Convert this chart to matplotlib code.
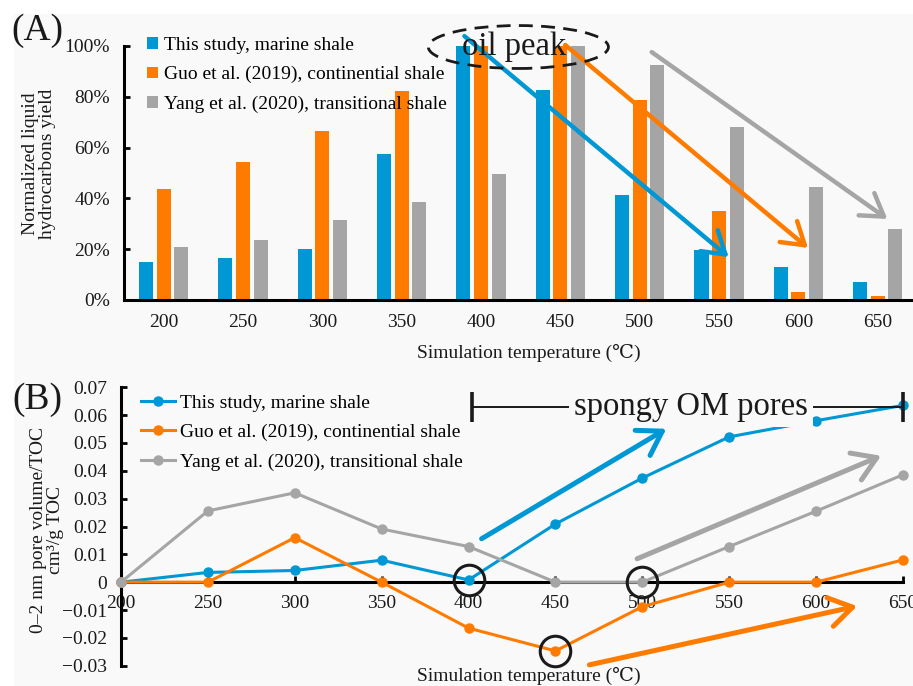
import matplotlib
matplotlib.use("Agg")
import matplotlib.pyplot as plt
import numpy as np
from matplotlib.patches import Ellipse, Rectangle, Patch
from matplotlib.lines import Line2D

plt.rcParams['font.family'] = ['Liberation Serif', 'DejaVu Serif', 'Noto Sans CJK SC']
plt.rcParams['mathtext.fontset'] = 'stix'

# ---------------- data ----------------
temps = [200, 250, 300, 350, 400, 450, 500, 550, 600, 650]
series_names = ["This study, marine shale",
                "Guo et al. (2019), continential shale",
                "Yang et al. (2020), transitional shale"]
colors = ['#0098d4', '#ff7b00', '#a5a5a5']

# Panel A: normalized liquid hydrocarbons yield (fraction)
yield_marine = [0.151, 0.167, 0.202, 0.574, 1.00, 0.827, 0.415, 0.197, 0.129, 0.071]
yield_contin = [0.437, 0.542, 0.665, 0.824, 1.00, 1.00, 0.787, 0.349, 0.031, 0.016]
yield_trans = [0.210, 0.237, 0.314, 0.386, 0.497, 1.00, 0.926, 0.680, 0.444, 0.280]

# Panel B: 0-2 nm pore volume / TOC
pv_marine = [0.0, 0.0035, 0.0042, 0.0079, 0.0008, 0.0209, 0.0374, 0.0522, 0.0580, 0.0635]
pv_contin = [0.0, 0.0, 0.0160, 0.0, -0.0165, -0.0247, -0.0088, 0.0, 0.0, 0.0080]
pv_trans = [0.0, 0.0256, 0.0321, 0.0191, 0.0128, 0.0, 0.0, 0.0128, 0.0255, 0.0386]

# annotation points (circled)
circle_x = [400, 450, 500]
circle_y = [0.0008, -0.0247, 0.0]

# trend arrows, panel A (category index, fraction): start, end
arrowsA = [((3.79, 1.039), (7.12, 0.169)),
           ((5.06, 1.004), (8.12, 0.205)),
           ((6.15, 0.976), (9.12, 0.319))]
# trend arrows, panel B (temperature, value): start, end
arrowsB = [((407.5, 0.0156), (513.8, 0.0551)),
           ((469.5, -0.0297), (623.6, -0.0086)),
           ((497.0, 0.0084), (637.4, 0.0454))]

W, H = 913, 686
fig = plt.figure(figsize=(W / 100, H / 100), dpi=100)
fig.patch.set_facecolor('white')
bg = '#f9f9f9'
fig.add_artist(Rectangle((14 / W, 0), 1, 1 - 14 / H, transform=fig.transFigure,
                         facecolor=bg, edgecolor='none', zorder=-10))

def fx(px):
    return px / W

def fy(py):
    return 1 - py / H

FS = 14
BIG = 23.5
TXT = '#1a1a1a'

# ---------------- Panel A ----------------
axA = fig.add_axes([fx(124), fy(300), (917.5 - 124) / W, (300 - 46) / H])
axA.set_facecolor('none')
x = np.arange(len(temps))
bw = 0.177
off = 0.222
for k, (vals, c, name) in enumerate(zip([yield_marine, yield_contin, yield_trans], colors, series_names)):
    axA.bar(x + (k - 1) * off, vals, width=bw, color=c, label=name, zorder=2)
axA.set_xlim(-0.5, 9.5)
axA.set_ylim(0, 1.0)
axA.set_xticks(x)
axA.set_xticklabels([str(t) for t in temps])
axA.set_yticks(np.arange(0, 1.01, 0.2))
axA.set_yticklabels([f"{int(round(v * 100))}%" for v in np.arange(0, 1.01, 0.2)])
axA.tick_params(axis='x', length=0, pad=10, labelsize=FS, labelcolor=TXT)
axA.tick_params(axis='y', direction='in', length=4, width=2, pad=10, labelsize=FS, labelcolor=TXT)
for s in ['top', 'right']:
    axA.spines[s].set_visible(False)
for s in ['left', 'bottom']:
    axA.spines[s].set_linewidth(2.2)
axA.spines['bottom'].set_zorder(5)

handlesA = [Patch(facecolor=c, edgecolor='none') for c in colors]
legA = fig.legend(handlesA, series_names, loc='upper left', bbox_to_anchor=(fx(147), fy(37)),
                  frameon=False, fontsize=FS, handlelength=0.55, handleheight=0.55,
                  handletextpad=0.3, labelspacing=0.62, borderpad=0, borderaxespad=0)

for (s, e), c in zip(arrowsA, colors):
    axA.annotate('', xy=e, xytext=s, xycoords='data', textcoords='data',
                 arrowprops=dict(arrowstyle='->,head_length=0.55,head_width=0.35',
                                 color=c, lw=3.2, mutation_scale=28, shrinkA=0, shrinkB=0),
                 annotation_clip=False, zorder=6)

ell = Ellipse((4.47, 0.996), 2.27, 0.169, fill=False, edgecolor=TXT, lw=2,
              linestyle=(0, (5, 3)), clip_on=False, zorder=7)
axA.add_patch(ell)
axA.text(4.42, 0.996, 'oil peak', fontsize=BIG, ha='center', va='center', color=TXT,
         zorder=8, clip_on=False)

fig.text(fx(37), fy(31), '(A)', fontsize=27, ha='center', va='center', color=TXT)
fig.text(fx(39), fy(164), 'Normalized liquid\nhydrocarbons yield', fontsize=FS, rotation=90,
         ha='center', va='center', linespacing=1.0, color=TXT)
fig.text(fx(529), fy(353), 'Simulation temperature (\u2103)', fontsize=FS, ha='center', va='center',
         color=TXT)

# ---------------- Panel B ----------------
axB = fig.add_axes([fx(121), fy(665.7), (903 - 121) / W, (665.7 - 387.3) / H])
axB.set_facecolor('none')
axB.spines['bottom'].set_position(('data', 0))
for vals, c, name in zip([pv_marine, pv_contin, pv_trans], colors, series_names):
    axB.plot(temps, vals, color=c, lw=2.2, marker='o', ms=6.5, label=name, clip_on=False, zorder=3)
axB.plot(circle_x, circle_y, linestyle='none', marker='o', ms=22, mfc='none', mec=TXT,
         mew=2.2, clip_on=False, zorder=6)
axB.set_xlim(200, 650)
axB.set_ylim(-0.03, 0.07)
axB.set_xticks(temps)
axB.set_xticklabels([str(t) for t in temps])
yt = np.round(np.arange(-0.03, 0.0701, 0.01), 2)
axB.set_yticks(yt)
axB.set_yticklabels(['0' if abs(v) < 1e-9 else f"{v:.2f}".replace('-', '\u2212') for v in yt])
axB.tick_params(axis='x', direction='in', length=4, width=2, pad=9, labelsize=FS, labelcolor=TXT)
axB.tick_params(axis='y', direction='in', length=4, width=2, pad=10, labelsize=FS, labelcolor=TXT)
for s in ['top', 'right']:
    axB.spines[s].set_visible(False)
for s in ['left', 'bottom']:
    axB.spines[s].set_linewidth(2.2)
axB.spines['bottom'].set_zorder(2)

for (s, e), c in zip(arrowsB, colors):
    axB.annotate('', xy=e, xytext=s, xycoords='data', textcoords='data',
                 arrowprops=dict(arrowstyle='->,head_length=0.55,head_width=0.35',
                                 color=c, lw=3.6, mutation_scale=30, shrinkA=0, shrinkB=0),
                 annotation_clip=False, zorder=5)

# spongy OM pores bracket
axB.plot([402, 650], [0.0631, 0.0631], color=TXT, lw=1.4, clip_on=False, zorder=4)
axB.plot([402, 650], [0.0631, 0.0631], linestyle='none', marker='|', ms=21, mew=2.6,
         color=TXT, clip_on=False, zorder=4)
axB.text(528, 0.0631, 'spongy OM pores', fontsize=BIG, ha='center', va='center', color=TXT,
         zorder=5, bbox=dict(facecolor=bg, edgecolor='none', pad=4))

handlesB = [Line2D([], [], color=c, lw=2.2, marker='o', ms=6.5) for c in colors]
legB = fig.legend(handlesB, series_names, loc='upper left', bbox_to_anchor=(fx(141), fy(394)),
                  frameon=False, fontsize=FS, handlelength=1.75, handletextpad=0.25,
                  labelspacing=0.62, borderpad=0, borderaxespad=0)

fig.text(fx(37), fy(400), '(B)', fontsize=27, ha='center', va='center', color=TXT)
fig.text(fx(47), fy(530), '0\u20132 nm pore volume/TOC\ncm\u00b3/g TOC', fontsize=FS, rotation=90,
         ha='center', va='center', linespacing=1.0, color=TXT)
fig.text(fx(529), fy(676), 'Simulation temperature (\u2103)', fontsize=FS, ha='center', va='center',
         color=TXT)

fig.savefig('out.png', dpi=100, facecolor=fig.get_facecolor())
